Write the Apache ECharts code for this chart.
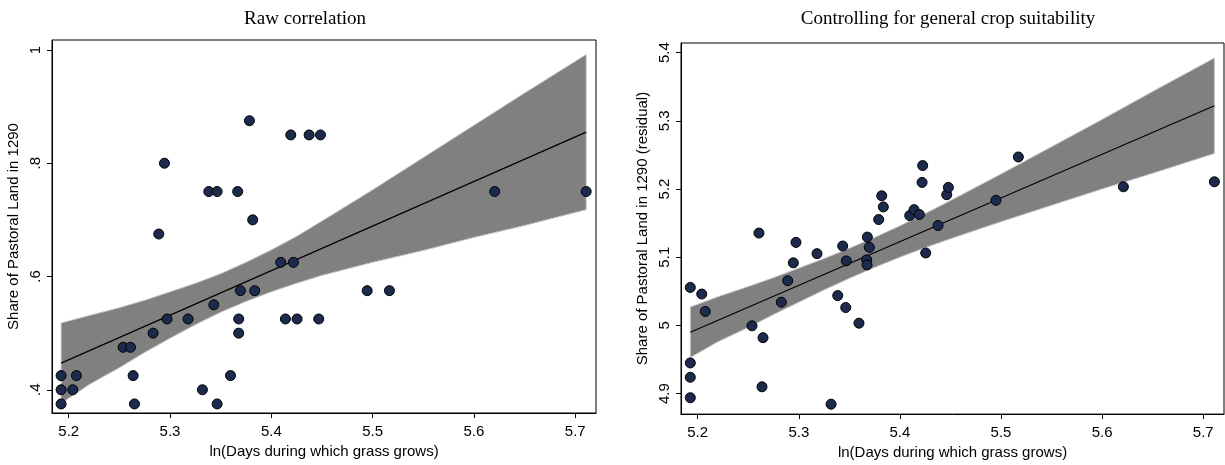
<!DOCTYPE html>
<html>
<head>
<meta charset="utf-8">
<script src="https://cdn.jsdelivr.net/npm/echarts@6/dist/echarts.min.js"></script>
<style>
  html, body { margin: 0; padding: 0; background: #fff; }
  #chart { width: 1225px; height: 465px; }
</style>
</head>
<body>
<div id="chart"></div>
<script>
// x ticks shared by both panels
const xTicks = [5.2, 5.3, 5.4, 5.5, 5.6, 5.7]

// left panel: raw share of pastoral land
const leftYTicks = [0.4, 0.6, 0.8, 1]
const leftYTickLabels = ['.4', '.6', '.8', '1']
const leftX = [
  5.1925, 5.1925, 5.1925, 5.2076, 5.204, 5.2537, 5.261, 5.2636, 5.2649, 5.2833,
  5.2971, 5.2889, 5.2945, 5.3178, 5.332, 5.3383, 5.3465, 5.3432, 5.3465, 5.3597,
  5.3668, 5.3678, 5.3678, 5.3695, 5.3836, 5.3784, 5.3816, 5.4093, 5.4218, 5.4139,
  5.4254, 5.4192, 5.4373, 5.4485, 5.4468, 5.4946, 5.5166, 5.6205, 5.7108
]
const leftY = [
  0.425, 0.4, 0.375, 0.425, 0.4, 0.475, 0.475, 0.425, 0.375, 0.5,
  0.525, 0.675, 0.8, 0.525, 0.4, 0.75, 0.75, 0.55, 0.375, 0.425,
  0.75, 0.525, 0.5, 0.575, 0.575, 0.875, 0.7, 0.625, 0.625, 0.525,
  0.525, 0.85, 0.85, 0.85, 0.525, 0.575, 0.575, 0.75, 0.75
]
const leftFitX = [5.1925, 5.7108]
const leftFitY = [0.447, 0.855]
const leftBandX = [5.1925, 5.22, 5.25, 5.275, 5.3, 5.325, 5.35, 5.375, 5.4, 5.425, 5.45, 5.5, 5.55, 5.6, 5.65, 5.7108]
const leftBandUpper = [0.518, 0.531, 0.545, 0.558, 0.573, 0.588, 0.605, 0.625, 0.647, 0.671, 0.698, 0.753, 0.81, 0.867, 0.924, 0.992]
const leftBandLower = [0.376, 0.409, 0.439, 0.466, 0.491, 0.515, 0.537, 0.556, 0.573, 0.588, 0.602, 0.625, 0.646, 0.669, 0.69, 0.718]

// right panel: residual share
const rightYTicks = [4.9, 5, 5.1, 5.2, 5.3, 5.4]
const rightX = [
  5.1927, 5.204, 5.2075, 5.1927, 5.1927, 5.1927, 5.2537, 5.2646, 5.2636, 5.2606,
  5.2827, 5.289, 5.2946, 5.2972, 5.318, 5.3319, 5.3385, 5.3434, 5.3464, 5.347,
  5.3595, 5.3678, 5.3697, 5.3671, 5.3675, 5.379, 5.382, 5.3836, 5.4097, 5.414,
  5.4192, 5.4219, 5.4225, 5.4255, 5.4377, 5.4463, 5.4479, 5.495, 5.5171, 5.621,
  5.711
]
const rightY = [
  5.0557, 5.046, 5.0204, 4.945, 4.924, 4.894, 4.9994, 4.982, 4.91, 5.1354,
  5.034, 5.0655, 5.0917, 5.1217, 5.1052, 4.8845, 5.0437, 5.1164, 5.0262, 5.0946,
  5.0033, 5.1295, 5.1144, 5.0961, 5.0888, 5.1552, 5.19, 5.1737, 5.161, 5.1697,
  5.1625, 5.2096, 5.2343, 5.1062, 5.1464, 5.1916, 5.2023, 5.1834, 5.2469, 5.2032,
  5.2105
]
const rightFitX = [5.1927, 5.711]
const rightFitY = [4.99, 5.322]
const rightBandX = [5.1927, 5.22, 5.25, 5.275, 5.3, 5.325, 5.35, 5.375, 5.4, 5.425, 5.45, 5.5, 5.55, 5.6, 5.65, 5.711]
const rightBandUpper = [5.027, 5.042, 5.057, 5.07, 5.084, 5.098, 5.113, 5.129, 5.146, 5.164, 5.183, 5.222, 5.262, 5.302, 5.343, 5.392]
const rightBandLower = [4.953, 4.976, 4.997, 5.016, 5.034, 5.052, 5.069, 5.085, 5.1, 5.114, 5.127, 5.152, 5.176, 5.2, 5.223, 5.252]

const sans = 'Liberation Sans'
const serif = 'Liberation Serif'
const pointColor = '#1c2a4e'

const pairs = (xs, ys) => xs.map((x, i) => [x, ys[i]])

// band polygon drawn through the axes' own coords
const bandSeries = (idx, xs, upper, lower) => ({
  type: 'custom',
  xAxisIndex: idx,
  yAxisIndex: idx,
  silent: true,
  z: 1,
  data: xs.map((x, i) => [x, lower[i], upper[i]]),
  renderItem: function (params, api) {
    if (params.dataIndex !== 0) return
    const pts = []
    xs.forEach((x, i) => pts.push(api.coord([x, upper[i]])))
    for (let i = xs.length - 1; i >= 0; i--) pts.push(api.coord([xs[i], lower[i]]))
    return {
      type: 'polygon',
      shape: { points: pts },
      style: { fill: '#808080', stroke: '#c8c8c8', lineWidth: 1 }
    }
  }
})

const xAxisBase = (idx) => ({
  type: 'value',
  gridIndex: idx,
  min: 5.1835,
  max: 5.7205,
  name: 'ln(Days during which grass grows)',
  nameLocation: 'middle',
  nameGap: 30,
  nameTextStyle: { fontFamily: sans, fontSize: 15, color: '#000' },
  axisLine: { show: true, onZero: false, lineStyle: { color: '#000', width: 1 } },
  axisTick: { show: true, length: 5, customValues: xTicks, lineStyle: { color: '#000' } },
  axisLabel: {
    customValues: xTicks,
    margin: 11,
    fontFamily: sans,
    fontSize: 15,
    color: '#000',
    formatter: (v) => String(Math.round(v * 10) / 10)
  },
  splitLine: { show: false }
})

const chart = echarts.init(document.getElementById('chart'))

const option = {
  backgroundColor: '#fff',
  animation: false,
  title: [
    {
      text: 'Raw correlation',
      left: 300,
      top: 5,
      textAlign: 'center',
      textStyle: { fontFamily: serif, fontSize: 19, fontWeight: 'normal', color: '#000' }
    },
    {
      text: 'Controlling for general crop suitability',
      left: 943,
      top: 5,
      textAlign: 'center',
      textStyle: { fontFamily: serif, fontSize: 19, fontWeight: 'normal', color: '#000' }
    }
  ],
  grid: [
    { left: 52, right: 629, top: 40, bottom: 52, show: true, borderColor: '#000', borderWidth: 1, backgroundColor: 'transparent' },
    { left: 681, right: 1, top: 43, bottom: 48, show: true, borderColor: '#000', borderWidth: 1, backgroundColor: 'transparent' }
  ],
  xAxis: [xAxisBase(0), xAxisBase(1)],
  yAxis: [
    {
      type: 'value',
      gridIndex: 0,
      min: 0.359,
      max: 1.0176,
      name: 'Share of Pastoral Land in 1290',
      nameLocation: 'middle',
      nameGap: 31,
      nameTextStyle: { fontFamily: sans, fontSize: 15, color: '#000' },
      axisLine: { show: true, onZero: false, lineStyle: { color: '#000', width: 1 } },
      axisTick: { show: true, length: 5, customValues: leftYTicks, lineStyle: { color: '#000' } },
      axisLabel: {
        customValues: leftYTicks,
        rotate: 90,
        margin: 9,
        fontFamily: sans,
        fontSize: 15,
        color: '#000',
        formatter: (v) => leftYTickLabels[leftYTicks.findIndex(t => Math.abs(t - v) < 1e-6)]
      },
      splitLine: { show: false }
    },
    {
      type: 'value',
      gridIndex: 1,
      min: 4.87,
      max: 5.414,
      name: 'Share of Pastoral Land in 1290 (residual)',
      nameLocation: 'middle',
      nameGap: 31,
      nameTextStyle: { fontFamily: sans, fontSize: 15, color: '#000' },
      axisLine: { show: true, onZero: false, lineStyle: { color: '#000', width: 1 } },
      axisTick: { show: true, length: 5, customValues: rightYTicks, lineStyle: { color: '#000' } },
      axisLabel: {
        customValues: rightYTicks,
        rotate: 90,
        margin: 9,
        fontFamily: sans,
        fontSize: 15,
        color: '#000',
        formatter: (v) => String(Math.round(v * 10) / 10)
      },
      splitLine: { show: false }
    }
  ],
  series: [
    bandSeries(0, leftBandX, leftBandUpper, leftBandLower),
    {
      type: 'line',
      xAxisIndex: 0,
      yAxisIndex: 0,
      data: pairs(leftFitX, leftFitY),
      symbol: 'none',
      z: 2,
      lineStyle: { color: '#000', width: 1.2 }
    },
    {
      type: 'scatter',
      xAxisIndex: 0,
      yAxisIndex: 0,
      data: pairs(leftX, leftY),
      symbolSize: 10,
      z: 3,
      itemStyle: { color: pointColor, borderColor: '#000', borderWidth: 1, opacity: 1 }
    },
    bandSeries(1, rightBandX, rightBandUpper, rightBandLower),
    {
      type: 'line',
      xAxisIndex: 1,
      yAxisIndex: 1,
      data: pairs(rightFitX, rightFitY),
      symbol: 'none',
      z: 2,
      lineStyle: { color: '#000', width: 1.2 }
    },
    {
      type: 'scatter',
      xAxisIndex: 1,
      yAxisIndex: 1,
      data: pairs(rightX, rightY),
      symbolSize: 10,
      z: 3,
      itemStyle: { color: pointColor, borderColor: '#000', borderWidth: 1, opacity: 1 }
    }
  ]
}

chart.setOption(option)
</script>
</body>
</html>
